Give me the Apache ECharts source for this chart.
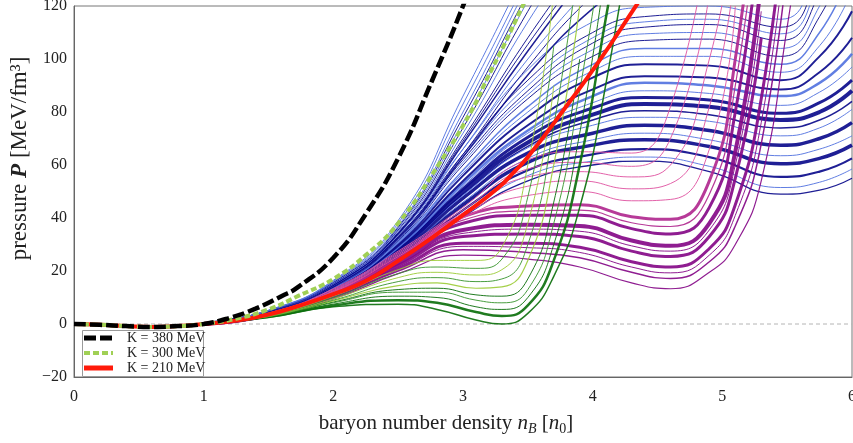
<!DOCTYPE html>
<html><head><meta charset="utf-8">
<script src="https://cdn.jsdelivr.net/npm/echarts@6/dist/echarts.min.js"></script>
<style>html,body{margin:0;padding:0;background:#fff}#c{width:853px;height:443px}</style>
</head><body><div id="c"></div>
<script>
// ---------- data ----------
const xTicks = [0, 1, 2, 3, 4, 5, 6];
const yTicks = [-20, 0, 20, 40, 60, 80, 100, 120];
const legendNames = ['K = 380 MeV', 'K = 300 MeV', 'K = 210 MeV'];

// common sub-saturation part of the three reference EoS
const nbLow = [0, 0.2, 0.4, 0.6, 0.8];
const pLow = [0, -0.3, -0.8, -1.1, -0.8];

const nbK380 = [1.0, 1.2, 1.4, 1.6, 1.73, 2.0, 2.25, 2.5, 2.76, 3.0, 3.1];
const pK380 = [0, 2.3, 5.8, 10.5, 14, 25, 41.5, 62.6, 91.7, 120, 134];
const nbK300 = [1.0, 1.25, 1.5, 1.73, 2.0, 2.25, 2.5, 2.81, 3.06, 3.19, 3.32, 3.44, 3.5];
const pK300 = [0, 2, 5.5, 10.6, 17, 26, 38, 60, 80, 93, 105.6, 118, 124];
const nbK210 = [1.0, 1.25, 1.5, 1.73, 2.0, 2.25, 2.5, 2.76, 3.01, 3.27, 3.4, 3.5, 3.81, 4.04, 4.32, 4.4];
const pK210 = [0, 1.3, 3.6, 6.8, 11.3, 16.2, 23.8, 32.5, 41.5, 51.3, 57.7, 63, 83, 98.5, 119, 125];

const nbZero = [0, 6];
const pZero = [0, 0];

// blue family (stiff, levelling-off curves)
const nbBlue = [1.0, 1.5, 2.0, 2.5, 3.0, 3.5, 4.0, 4.4, 4.9, 5.45, 5.75, 6.0];
const pBlue = [
  [0, 3.8, 11.5, 24.0, 40.5, 54.0, 60.0, 61.5, 57.5, 49.0, 50.5, 55.0],
  [0, 3.9, 11.8, 24.5, 41.5, 56.0, 61.5, 63.0, 59.5, 51.5, 53.5, 58.5],
  [0, 4.0, 12.0, 25.2, 43.0, 58.0, 64.0, 66.0, 63.0, 55.5, 57.5, 62.5],
  [0, 4.1, 12.3, 26.0, 45.0, 61.0, 67.5, 69.5, 67.0, 60.5, 62.5, 67.5],
  [0, 4.1, 12.4, 26.5, 46.0, 62.5, 69.5, 72.0, 69.5, 63.5, 66.0, 71.0],
  [0, 4.2, 12.5, 27.0, 47.5, 64.5, 72.0, 75.0, 73.0, 67.5, 70.0, 76.0],
  [0, 4.2, 12.7, 27.8, 49.0, 67.0, 77.0, 80.5, 79.0, 74.0, 77.0, 84.0],
  [0, 4.2, 12.6, 27.5, 48.5, 66.5, 75.0, 78.0, 76.5, 71.0, 74.0, 81.0],
  [0, 4.3, 12.8, 28.0, 50.0, 68.5, 79.0, 83.0, 82.0, 77.0, 80.0, 88.0],
  [0, 4.3, 12.9, 28.5, 51.0, 70.5, 81.5, 85.5, 84.5, 79.5, 83.5, 92.0],
  [0, 4.35, 13.0, 28.8, 52.0, 72.0, 83.5, 88.0, 87.0, 82.5, 87.5, 97.0],
  [0, 4.4, 13.0, 29.0, 53.0, 73.0, 86.0, 91.0, 90.0, 86.0, 91.0, 102.0],
  [0, 4.4, 13.2, 29.5, 54.0, 75.0, 88.5, 93.5, 93.0, 88.5, 95.0, 108.0],
  [0, 4.5, 13.4, 30.0, 56.0, 78.0, 93.0, 98.0, 97.5, 92.0, 101.0, 118.0],
  [0, 4.55, 13.5, 30.5, 57.0, 80.0, 95.5, 101.0, 101.0, 95.0, 105.0, 126.0],
  [0, 4.6, 13.6, 31.0, 58.0, 82.0, 98.0, 104.0, 104.0, 98.0, 110.0, 135.0],
  [0, 4.6, 13.8, 31.5, 60.0, 85.0, 101.0, 107.0, 107.5, 101.0, 116.0, 145.0],
  [0, 4.65, 13.9, 31.8, 61.0, 86.5, 103.5, 109.5, 110.0, 104.0, 120.0, 152.0],
  [0, 4.7, 14.0, 32.0, 62.0, 88.0, 106.0, 112.0, 113.0, 107.0, 125.0, 160.0],
  [0, 4.75, 14.1, 32.5, 63.0, 90.0, 108.0, 114.0, 115.0, 109.5, 130.0, 168.0],
  [0, 4.8, 14.2, 33.0, 64.0, 92.0, 110.0, 116.0, 117.0, 112.0, 135.0, 175.0],
  [0, 4.8, 14.4, 34.0, 66.0, 96.0, 114.0, 119.5, 120.0, 115.0, 145.0, 190.0],
  [0, 4.7, 14.1, 32.5, 63.0, 94.0, 119.0, 132.0],
  [0, 4.7, 14.2, 33.0, 64.0, 97.0, 124.0, 140.0],
  [0, 4.8, 14.4, 33.5, 66.0, 100.0, 128.0],
  [0, 4.8, 14.6, 34.0, 68.0, 103.0, 135.0],
  [0, 4.85, 14.7, 34.2, 69.0, 105.5, 138.0],
  [0, 4.9, 14.8, 34.5, 70.0, 108.0, 142.0],
  [0, 4.9, 15.0, 35.0, 72.0, 114.0, 150.0],
  [0, 4.95, 15.2, 35.5, 74.0, 118.0, 158.0],
  [0, 5.0, 15.5, 36.0, 76.0, 122.0, 165.0],
  [0, 5.05, 15.7, 36.5, 78.0, 125.0, 170.0],
  [0, 5.1, 16.0, 37.0, 80.0, 128.0, 175.0],
  [0, 5.15, 16.2, 38.0, 83.0, 131.0, 180.0],
  [0, 5.2, 16.5, 39.0, 86.0, 135.0, 185.0]
];

// purple / pink family
const nbPurple = [1.0, 1.5, 2.0, 2.5, 3.0, 3.5, 3.9, 4.3, 4.6, 4.9, 5.1, 5.3, 5.5, 5.7];
const pPurple = [
  [0, 3.0, 9.5, 19.0, 26.0, 24.5, 21.5, 15.5, 13.3, 19.5, 30.0, 54.0, 112.0, 180.0],
  [0, 3.1, 10.0, 20.0, 28.0, 27.0, 25.0, 19.5, 17.2, 23.5, 37.0, 68.0, 135.0],
  [0, 3.15, 10.2, 20.5, 29.3, 28.8, 27.0, 21.5, 19.3, 26.0, 41.0, 76.0, 148.0],
  [0, 3.2, 10.5, 21.0, 30.5, 30.5, 29.0, 23.5, 21.5, 28.5, 45.0, 85.0, 160.0],
  [0, 3.3, 11.0, 22.0, 33.0, 34.0, 33.0, 27.5, 25.5, 33.0, 55.0, 108.0],
  [0, 3.35, 11.1, 22.5, 34.2, 35.8, 35.0, 29.5, 27.5, 35.5, 60.0, 118.0],
  [0, 3.4, 11.2, 23.0, 35.5, 37.5, 37.0, 31.5, 29.5, 38.0, 65.0, 130.0],
  [0, 3.5, 11.5, 24.0, 38.0, 41.0, 41.0, 36.0, 34.0, 44.0, 80.0, 150.0],
  [0, 3.55, 11.6, 24.5, 39.2, 42.7, 43.0, 38.2, 36.8, 49.0, 90.0, 165.0],
  [0, 3.6, 11.8, 25.0, 40.5, 44.5, 45.0, 40.5, 39.5, 54.0, 100.0, 180.0],
  [0, 3.7, 12.0, 25.5, 40.0, 48.5, 50.0, 46.5, 47.0, 66.0, 120.0],
  [0, 3.8, 12.3, 26.0, 41.0, 52.0, 54.0, 51.0, 53.0, 82.0, 135.0],
  [0, 3.9, 12.6, 26.5, 42.0, 55.5, 57.5, 55.5, 60.0, 100.0, 150.0],
  [0, 4.0, 13.0, 27.0, 43.0, 58.5, 61.0, 59.5, 70.0, 125.0],
  [0, 4.1, 13.3, 27.5, 44.0, 62.0, 65.0, 64.5, 82.0, 150.0]
];

// green family (soft, with a dip)
const nbGreen = [1.0, 1.5, 2.0, 2.5, 2.8, 3.1, 3.3, 3.5, 3.7, 3.9, 4.1, 4.3];
const pGreen = [
  [0, 2.5, 6.5, 7.5, 5.5, 1.5, 0.0, 4.0, 18.0, 44.0, 90.0, 150.0],
  [0, 2.6, 7.0, 9.0, 8.0, 4.5, 3.0, 7.0, 24.0, 60.0, 115.0, 170.0],
  [0, 2.7, 7.5, 10.5, 10.0, 6.5, 5.5, 10.0, 30.0, 72.0, 135.0],
  [0, 2.8, 8.0, 12.0, 12.0, 9.0, 8.0, 13.0, 38.0, 88.0, 150.0],
  [0, 2.8, 8.3, 13.0, 13.5, 11.0, 10.5, 17.0, 46.0, 100.0],
  [0, 2.9, 8.7, 14.5, 15.5, 13.5, 14.0, 24.0, 60.0, 120.0],
  [0, 3.0, 9.0, 16.0, 17.5, 16.0, 17.0, 30.0, 75.0, 140.0],
  [0, 3.1, 9.5, 17.5, 19.5, 18.5, 20.5, 38.0, 90.0],
  [0, 3.2, 10.0, 19.0, 21.5, 21.0, 24.5, 48.0, 105.0],
  [0, 3.3, 10.5, 20.5, 24.0, 24.0, 29.0, 60.0, 125.0]
];

// ---------- styles ----------
const palette = {
  navy: '#0c0c8c', royal: '#5473df', purple: '#850a88', pkpur: '#b1298f',
  pink: '#df55a2', dgreen: '#0d700d', green: '#3b9630', lgreen: '#9dcc3a'
};
const blueStyle = [
  ['navy',1.3],['royal',1],['navy',2.2],['navy',3.5],['royal',1],['navy',3.5],['navy',1.5],['royal',1],
  ['navy',4],['navy',3],['royal',1],['royal',2.5],['navy',2],['navy',2],['royal',1],['royal',1.5],
  ['navy',1],['royal',1],['navy',1],['royal',1],['navy',1],['royal',1],
  ['navy',1.5],['navy',1],['royal',1],['navy',1.5],['navy',1],['navy',1],['royal',1],['navy',1],
  ['royal',1],['navy',1],['royal',1],['royal',1],['royal',1]
];
const purpleStyle = [
  ['purple',1.2],['purple',1.5],['purple',1],['purple',3],['purple',3],['purple',1],['purple',4],['purple',3],
  ['pkpur',1.2],['pkpur',3],['pink',1],['pink',1],['pink',1],['pink',1],['pink',1]
];
const greenStyle = [
  ['dgreen',1.5],['dgreen',2.5],['dgreen',1],['green',1],['dgreen',1],['lgreen',1.2],['green',1],['lgreen',1],['green',1],['lgreen',1]
];

function pairs(xs, ys) { return ys.map((y, i) => [xs[i], y]); }
const series = [];
series.push({
  type: 'line', data: pairs(nbZero, pZero), symbol: 'none', silent: true, z: 1,
  lineStyle: { color: '#b4b4b4', width: 1, type: [4, 3] }
});
function addFamily(xs, list, styles, z) {
  list.forEach((ys, i) => {
    const st = styles[i];
    series.push({
      type: 'line', data: pairs(xs, ys), smooth: 0.5,
      symbol: 'none', silent: true, z: z, clip: true,
      lineStyle: { color: palette[st[0]], width: st[1], opacity: 0.92 }
    });
  });
}
addFamily(nbBlue, pBlue, blueStyle, 2);
addFamily(nbPurple, pPurple, purpleStyle, 3);
addFamily(nbGreen, pGreen, greenStyle, 4);

const mainColors = ['#000000', '#a0d055', '#ff1a0a'];
const mainWidths = [4.5, 4, 4];
const mainDash = [[12, 4], [6, 3], 'solid'];
function mainData(xs, ys) { return pairs(nbLow, pLow).concat(pairs(xs, ys)); }
const mainSets = [[nbK380, pK380], [nbK300, pK300], [nbK210, pK210]];
[2, 1, 0].forEach((k, j) => {
  series.push({
    name: legendNames[k], type: 'line', data: mainData(mainSets[k][0], mainSets[k][1]), smooth: 0.5,
    symbol: 'none', silent: true, z: 5 + j, clip: true,
    lineStyle: { color: mainColors[k], width: mainWidths[k], type: mainDash[k], cap: 'butt' }
  });
});

// legend drawn as graphic elements
const serif = 'Liberation Serif';
const legendGraphic = [{
  type: 'rect', z: 100, shape: { x: 82.5, y: 330.5, width: 121, height: 46 },
  style: { fill: '#fff', stroke: '#9a9a9a', lineWidth: 1 }
}];
legendNames.forEach((nm, k) => {
  const yy = 338 + 15 * k;
  legendGraphic.push({
    type: 'line', z: 101, shape: { x1: 84, y1: yy, x2: 113, y2: yy },
    style: { stroke: mainColors[k], lineWidth: k === 1 ? 4 : 5, lineDash: k === 2 ? null : mainDash[k] }
  });
  legendGraphic.push({
    type: 'text', z: 101, x: 127, y: yy,
    style: { text: nm, fontFamily: serif, fontSize: 14, fill: '#222', verticalAlign: 'middle', align: 'left' }
  });
});

const chart = echarts.init(document.getElementById('c'), null, { renderer: 'canvas' });
chart.setOption({
  animation: false,
  grid: { left: 74, right: 1, top: 6, bottom: 66, show: true, borderColor: '#777', borderWidth: 1, outerBoundsMode: 'none', containLabel: false },
  xAxis: {
    type: 'value', min: xTicks[0], max: xTicks[xTicks.length - 1], interval: 1,
    axisLine: { onZero: false, lineStyle: { color: '#666', width: 1 } },
    axisTick: { show: false }, splitLine: { show: false },
    axisLabel: { fontFamily: serif, fontSize: 16, color: '#222', margin: 12 },
    name: 'baryon number density {i|n}{si|B} [{i|n}{s|0}]',
    nameLocation: 'middle', nameGap: 34,
    nameTextStyle: {
      fontFamily: serif, fontSize: 21, color: '#222', padding: [0, 34, 0, 0],
      rich: {
        i: { fontFamily: serif, fontSize: 21, fontStyle: 'italic', color: '#222' },
        si: { fontFamily: serif, fontSize: 14, fontStyle: 'italic', color: '#222', padding: [11, 0, 0, 0] },
        s: { fontFamily: serif, fontSize: 14, color: '#222', padding: [11, 0, 0, 0] }
      }
    }
  },
  yAxis: {
    type: 'value', min: yTicks[0], max: yTicks[yTicks.length - 1], interval: 20,
    axisLine: { onZero: false, lineStyle: { color: '#666', width: 1 } },
    axisTick: { show: false }, splitLine: { show: false },
    axisLabel: {
      fontFamily: serif, fontSize: 16, color: '#222', margin: 7,
      formatter: v => (v < 0 ? '\u2212' + (-v) : '' + v)
    },
    name: 'pressure {i|P} [MeV/fm\u00b3]',
    nameLocation: 'middle', nameGap: 38,
    nameTextStyle: {
      fontFamily: serif, fontSize: 23, color: '#222', padding: [0, 0, 0, 66],
      rich: { i: { fontFamily: serif, fontSize: 23, fontStyle: 'italic', fontWeight: 'bold', color: '#222' } }
    }
  },
  graphic: legendGraphic,
  series: series
});
</script>
</body></html>
